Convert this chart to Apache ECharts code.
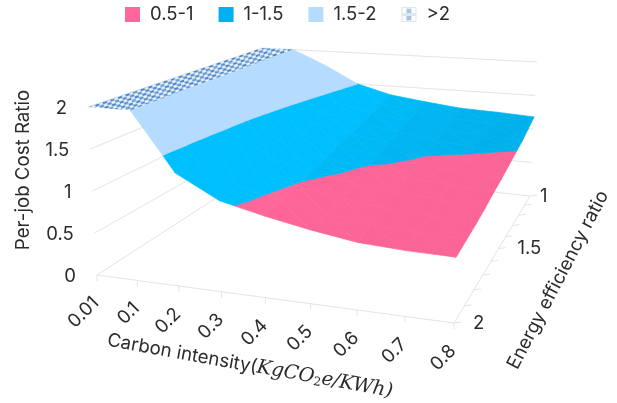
<!DOCTYPE html>
<html><head><meta charset="utf-8">
<style>html,body{margin:0;padding:0;background:#fff}#c{width:617px;height:403px}</style>
<script src="https://cdn.jsdelivr.net/npm/echarts@6/dist/echarts.min.js"></script>
</head><body><div id="c"></div>
<script>
// ---- data ----
const carbonIntensity = ['0.01','0.1','0.2','0.3','0.4','0.5','0.6','0.7','0.8'];
const efficiencyRatio = [1,1.1,1.2,1.3,1.4,1.5,1.6,1.7,1.8,1.9,2];
const efficiencyLabels = ['1','','','','','1.5','','','','','2'];
const costTicks = [0,0.5,1,1.5,2];
const costMax = 2;
// one list per carbon intensity, running through efficiencyRatio
const cost001 = [3.2,3.0,2.9,2.8,2.7,2.65,2.6,2.55,2.5,2.45,2.4];
const cost01  = [2,2,2,2,2,2,2,2,2,2,2];
const cost02  = [1.77,1.72,1.67,1.62,1.575,1.535,1.50,1.46,1.41,1.36,1.31];
const cost03  = [1.50,1.45,1.40,1.35,1.30,1.26,1.21,1.17,1.12,1.08,1.04];
const cost04  = [1.36,1.31,1.27,1.22,1.18,1.14,1.09,1.03,0.985,0.95,0.92];
const cost05  = [1.29,1.24,1.20,1.15,1.10,1.04,0.98,0.94,0.90,0.86,0.82];
const cost06  = [1.23,1.17,1.11,1.06,1.01,0.97,0.93,0.88,0.83,0.78,0.74];
const cost07  = [1.21,1.15,1.09,1.03,0.98,0.94,0.90,0.85,0.80,0.75,0.71];
const cost08  = [1.18,1.11,1.04,0.99,0.94,0.89,0.85,0.80,0.76,0.73,0.70];
const costTable = [cost001,cost01,cost02,cost03,cost04,cost05,cost06,cost07,cost08];
const bandNames = ['0.5-1','1-1.5','1.5-2','>2'];
const bandLows  = [0.5,1,1.5,2];
const bandHighs = [1,1.5,2,Infinity];

// ---- scene: the 3D box seen in perspective ----
const box = {            // [carbon end][efficiency end][floor/top]
  p000:[264,167], p001:[262,48],  p010:[97,275],  p011:[88,107],
  p100:[530,196], p101:[537,62],  p110:[454,323], p111:[460,135]
};
const depth = (u,v)=>(1-0.107*u)*(1+0.41*(1-v));
function project(u,v,h){
  let sx=0,sy=0,sw=0;
  for(const a of [0,1])for(const b of [0,1])for(const c of [0,1]){
    const w=(a?u:1-u)*(b?v:1-v)*(c?h:1-h)*depth(a,b);
    const p=box['p'+a+b+c];
    sx+=w*p[0];sy+=w*p[1];sw+=w;
  }
  return [sx/sw,sy/sw];
}
const uOf=i=>i/(carbonIntensity.length-1);
const vOf=j=>(efficiencyRatio[j]-1)/(efficiencyRatio[efficiencyRatio.length-1]-1);
const hOf=z=>Math.min(z,costMax)/costMax;

function clip(poly,keep,level){
  const out=[];
  for(let k=0;k<poly.length;k++){
    const a=poly[k],b=poly[(k+1)%poly.length],ka=keep(a[2]),kb=keep(b[2]);
    if(ka)out.push(a);
    if(ka!==kb){const t=(level-a[2])/(b[2]-a[2]);out.push([a[0]+t*(b[0]-a[0]),a[1]+t*(b[1]-a[1]),level]);}
  }
  return out;
}
function triangle(i,j,t){
  const V=(a,b)=>[uOf(a),vOf(b),costTable[a][b]];
  return t===0?[V(i,j),V(i+1,j),V(i+1,j+1)]:[V(i,j),V(i+1,j+1),V(i,j+1)];
}
const cells=[];
for(let j=0;j<efficiencyRatio.length-1;j++)for(let i=0;i<carbonIntensity.length-1;i++)for(const t of [0,1])cells.push([i,j,t]);

function columnDrop(i){
  if(i<1)i=1;
  if(i>costTable.length-2)i=costTable.length-2;
  let s=0;
  costTable[i].forEach((z,j)=>{s+=z-costTable[i+1][j];});
  return Math.max(0,s/costTable[i].length);
}
function shade(hex,i,floor){
  const soft=(columnDrop(i-1)+columnDrop(i)+columnDrop(i+1))/3;
  const f=floor+(1-floor)*Math.min(1,Math.sqrt(soft/0.15));
  const n=parseInt(hex.slice(1),16);
  return 'rgb('+[(n>>16)&255,(n>>8)&255,n&255].map(c=>Math.round(c*f)).join(',')+')';
}

// hatch used for the clipped top band
function hatchTile(){
  const c=document.createElement('canvas');c.width=8;c.height=5;
  const g=c.getContext('2d');
  g.fillStyle='#cfe2f6';g.fillRect(0,0,8,5);
  g.fillStyle='#4f86c6';g.fillRect(0,0,4,2);g.fillRect(4,2.5,4,2);
  g.fillStyle='#ffffff';g.fillRect(5,0.5,2,1);g.fillRect(1,3,2,1);
  return c;
}
function legendTile(){
  const c=document.createElement('canvas');c.width=15;c.height=15;
  const g=c.getContext('2d');
  g.fillStyle='#dbe7f2';g.fillRect(0,0,15,15);
  g.fillStyle='#ffffff';g.fillRect(1,1,4,5);g.fillRect(10,1,4,5);g.fillRect(1,9,4,5);g.fillRect(10,9,4,5);
  g.fillStyle='#a9c4e0';g.fillRect(5,2,5,4);g.fillRect(5,9,5,4);
  return c;
}
const hatchFill={image:hatchTile(),repeat:'repeat',rotation:-0.33};
const legendFill={image:legendTile(),repeat:'repeat'};
const bandColors=['#ff6699','#00bfff','#b5dcff'];
const bandFloors=[0.965,0.86,0.92];

function bandSeries(b){
  return {
    type:'custom',name:bandNames[b],coordinateSystem:'cartesian2d',clip:false,z:3,
    itemStyle:{color:b<3?(b===1?'#00b0f0':bandColors[b]):legendFill},
    data:cells,encode:{x:0,y:1},silent:true,
    renderItem(params,api){
      let poly=triangle(api.value(0),api.value(1),api.value(2));
      poly=clip(poly,z=>z>=bandLows[b],bandLows[b]);
      if(poly.length&&bandHighs[b]!==Infinity)poly=clip(poly,z=>z<=bandHighs[b],bandHighs[b]);
      if(poly.length<3)return null;
      const pts=poly.map(q=>api.coord(project(q[0],q[1],hOf(q[2]))));
      const fill=b<3?shade(bandColors[b],api.value(0),bandFloors[b]):hatchFill;
      return {type:'polygon',shape:{points:pts},style:b<3?{fill,stroke:fill,lineWidth:0.7}:{fill}};
    }
  };
}

const ink='#2b2b2b',gridInk='#e4e4e4',font='Inter, "Noto Sans", sans-serif';
function axesSeries(){
  return {
    type:'custom',name:'axes',coordinateSystem:'cartesian2d',clip:false,z:2,silent:true,
    data:[[0,0]],encode:{x:0,y:1},
    renderItem(params,api){
      const kids=[];
      const line=(a,b)=>{const p=api.coord(a),q=api.coord(b);
        kids.push({type:'line',shape:{x1:p[0],y1:p[1],x2:q[0],y2:q[1]},style:{stroke:gridInk,lineWidth:1}});};
      const text=(t,xy,opt)=>{const p=api.coord(xy);
        kids.push({type:'text',x:p[0],y:p[1],rotation:opt.rotation||0,
          style:{text:t,fill:ink,font:'18.5px '+font,align:opt.align||'center',verticalAlign:'middle'}});};
      costTicks.forEach(z=>{
        const h=hOf(z);
        line(project(0,1,h),project(0,0,h));
        line(project(0,0,h),project(1,0,h));
        const p=project(0,1,h);
        text(String(z),[p[0]-21,p[1]+1],{align:'right'});
      });
      line(project(0,1,0),project(1,1,0));
      line(project(1,1,0),project(1,0,0));
      carbonIntensity.forEach((c,i)=>{
        const p=project(uOf(i),1,0);
        line(p,[p[0],p[1]+6]);
        text(c,[p[0]-1,p[1]+25],{align:'right',rotation:Math.PI/4});
      });
      efficiencyRatio.forEach((e,j)=>{
        const v=vOf(j),p=project(1,v,0);
        line(p,[p[0]+7,p[1]-1]);
        if(efficiencyLabels[j])text(efficiencyLabels[j],[p[0]+10+9*Math.min(1,2*v),p[1]],{align:'left'});
      });
      const title=(xy,rot,txt,rich)=>{const p=api.coord(xy);
        kids.push({type:'text',x:p[0],y:p[1],rotation:rot,
          style:{text:txt,fill:ink,font:'18.7px '+font,align:'center',verticalAlign:'middle',rich}});};
      title([23,170],Math.PI/2,'Per-job Cost Ratio');
      title([558,280],62.5*Math.PI/180,'Energy efficiency ratio');
      const M={font:'italic 19.5px "DejaVu Serif", serif',fill:ink};
      title([250,366],-10.3*Math.PI/180,'{a|Carbon intensity(}{m|KgCO}{s|2}{m|e/KWh)}',{
        a:{font:'18.7px '+font,fill:ink},m:M,s:{font:'12px "DejaVu Serif", serif',fill:ink,padding:[8,0,0,0]}
      });
      return {type:'group',children:kids};
    }
  };
}

const chart=echarts.init(document.getElementById('c'),null,{renderer:'canvas',width:617,height:403});
chart.setOption({
  animation:false,
  backgroundColor:'#fff',
  grid:{left:0,right:0,top:0,bottom:0},
  xAxis:{type:'value',min:0,max:617,show:false},
  yAxis:{type:'value',min:0,max:403,inverse:true,show:false},
  legend:{data:bandNames,left:125,top:5,padding:0,itemWidth:15,itemHeight:15,itemGap:25,icon:'rect',
    selectedMode:false,textStyle:{color:ink,fontSize:18.5,fontFamily:font,padding:[0,0,0,5]}},
  series:[axesSeries(),0,1,2,3].map(x=>typeof x==='number'?bandSeries(x):x)
});
</script></body></html>
